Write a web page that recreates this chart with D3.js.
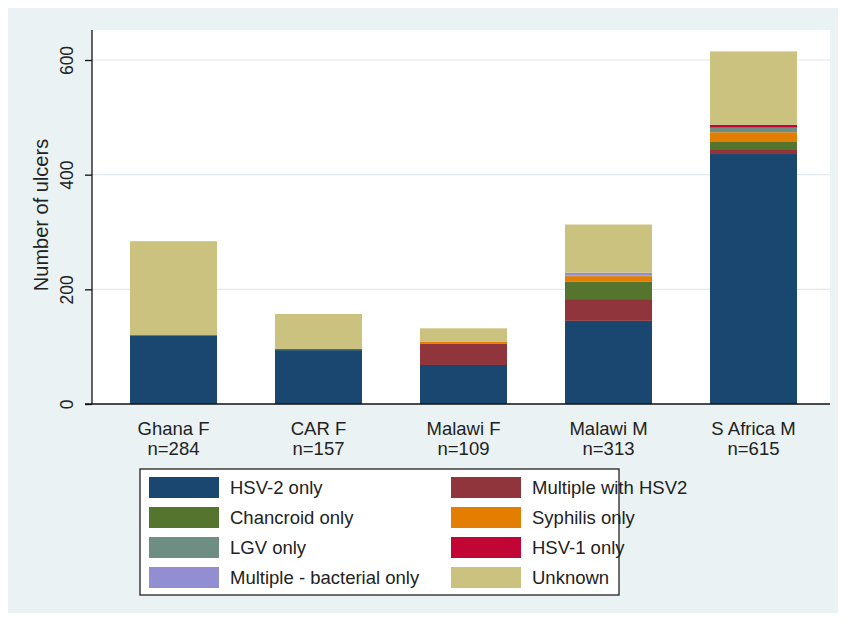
<!DOCTYPE html>
<html>
<head>
<meta charset="utf-8">
<script src="https://cdn.jsdelivr.net/npm/d3@7"></script>
<style>
  body { margin: 0; background: #fff; }
  text { font-family: "Liberation Sans", Arial, sans-serif; fill: #222; }
</style>
</head>
<body>
<svg id="chart" width="846" height="620"></svg>
<script>
// data
var groups = ['Ghana F', 'CAR F', 'Malawi F', 'Malawi M', 'S Africa M'];
var nLabels = ['n=284', 'n=157', 'n=109', 'n=313', 'n=615'];
var categories = ['HSV-2 only', 'Multiple with HSV2', 'Chancroid only', 'Syphilis only',
  'LGV only', 'HSV-1 only', 'Multiple - bacterial only', 'Unknown'];
var colors = ['#1a476f', '#90353b', '#55752f', '#e37e00', '#6e8e84', '#c10534', '#938dd2', '#cac27e'];

var hsv2 = [120, 94, 68, 145, 436];
var multiHsv2 = [0, 0, 37, 38, 7];
var chancroid = [0, 2, 1, 30, 14];
var syphilis = [0, 0, 3, 10, 17];
var lgv = [0, 0, 0, 1, 8];
var hsv1 = [0, 0, 0, 0, 5];
var multiBact = [0, 0, 0, 5, 0];
var unknown = [164, 61, 23, 84, 128];
var yTicks = [0, 200, 400, 600];

var series = [hsv2, multiHsv2, chancroid, syphilis, lgv, hsv1, multiBact, unknown];

var table = groups.map(function(g, i) {
  var row = { group: g };
  categories.forEach(function(c, k) { row[c] = series[k][i]; });
  return row;
});

var svg = d3.select('#chart');

// outer panel
svg.append('rect').attr('x', 8).attr('y', 8).attr('width', 830).attr('height', 605)
  .attr('fill', '#eaf2f3');

var plot = { left: 92, right: 830, top: 30, bottom: 404 };
svg.append('rect').attr('x', plot.left).attr('y', plot.top)
  .attr('width', plot.right - plot.left).attr('height', plot.bottom - plot.top)
  .attr('fill', '#fff');

var x = d3.scaleBand().domain(groups).range([101, 826]).paddingInner(0.4).paddingOuter(0.2);
var y = d3.scaleLinear().domain([0, 600]).range([404, 60]);

// grid
svg.append('g').selectAll('line').data(yTicks.slice(1)).enter().append('line')
  .attr('x1', plot.left).attr('x2', plot.right)
  .attr('y1', function(d) { return y(d); }).attr('y2', function(d) { return y(d); })
  .attr('stroke', '#e4eaec').attr('stroke-width', 1.2);

// bars
var stacked = d3.stack().keys(categories)(table);
svg.append('g').selectAll('g').data(stacked).enter().append('g')
  .attr('fill', function(d, i) { return colors[i]; })
  .selectAll('rect').data(function(d) { return d; }).enter().append('rect')
  .attr('x', function(d) { return x(d.data.group); })
  .attr('width', x.bandwidth())
  .attr('y', function(d) { return y(d[1]); })
  .attr('height', function(d) { return y(d[0]) - y(d[1]); });

// y axis
var yAxis = svg.append('g').attr('transform', 'translate(' + plot.left + ',0)')
  .call(d3.axisLeft(y).tickValues(yTicks).tickSize(7).tickPadding(14));
yAxis.select('.domain').attr('d', 'M0,' + plot.top + 'V' + plot.bottom).attr('stroke', '#111').attr('stroke-width', 1.3);
yAxis.selectAll('.tick line').attr('stroke', '#111').attr('stroke-width', 1.3);
yAxis.selectAll('.tick text')
  .attr('transform', function() { return 'rotate(-90)'; })
  .attr('x', 0).attr('y', -25)
  .attr('dy', '0.35em')
  .style('text-anchor', 'middle')
  .attr('font-size', '17.5px')
  .attr('fill', '#222');

svg.append('text')
  .attr('transform', 'translate(48,' + 215 + ') rotate(-90)')
  .style('text-anchor', 'middle')
  .attr('font-size', '20px')
  .text('Number of ulcers');

// x axis
svg.append('line').attr('x1', 85).attr('x2', plot.right)
  .attr('y1', plot.bottom).attr('y2', plot.bottom)
  .attr('stroke', '#111').attr('stroke-width', 1.3);

var xl = svg.append('g').selectAll('text').data(groups).enter().append('text')
  .attr('x', function(d) { return x(d) + x.bandwidth() / 2; })
  .attr('y', 435)
  .style('text-anchor', 'middle')
  .attr('font-size', '18.5px');
xl.append('tspan').text(function(d) { return d; });
xl.append('tspan').attr('x', function(d) { return x(d) + x.bandwidth() / 2; })
  .attr('dy', 20).text(function(d, i) { return nLabels[i]; });

// legend
var legend = svg.append('g');
legend.append('rect').attr('x', 140).attr('y', 469).attr('width', 479).attr('height', 126)
  .attr('fill', '#fff').attr('stroke', '#222').attr('stroke-width', 1.3);
var items = legend.selectAll('g.item').data(categories).enter().append('g')
  .attr('transform', function(d, i) {
    return 'translate(' + (i % 2 === 0 ? 149 : 451) + ',' + (477 + Math.floor(i / 2) * 30) + ')';
  });
items.append('rect').attr('width', 70).attr('height', 21)
  .attr('fill', function(d, i) { return colors[i]; });
items.append('text').attr('x', 81).attr('y', 11).attr('dy', '0.35em')
  .attr('font-size', '18.5px').text(function(d) { return d; });
</script>
</body>
</html>
